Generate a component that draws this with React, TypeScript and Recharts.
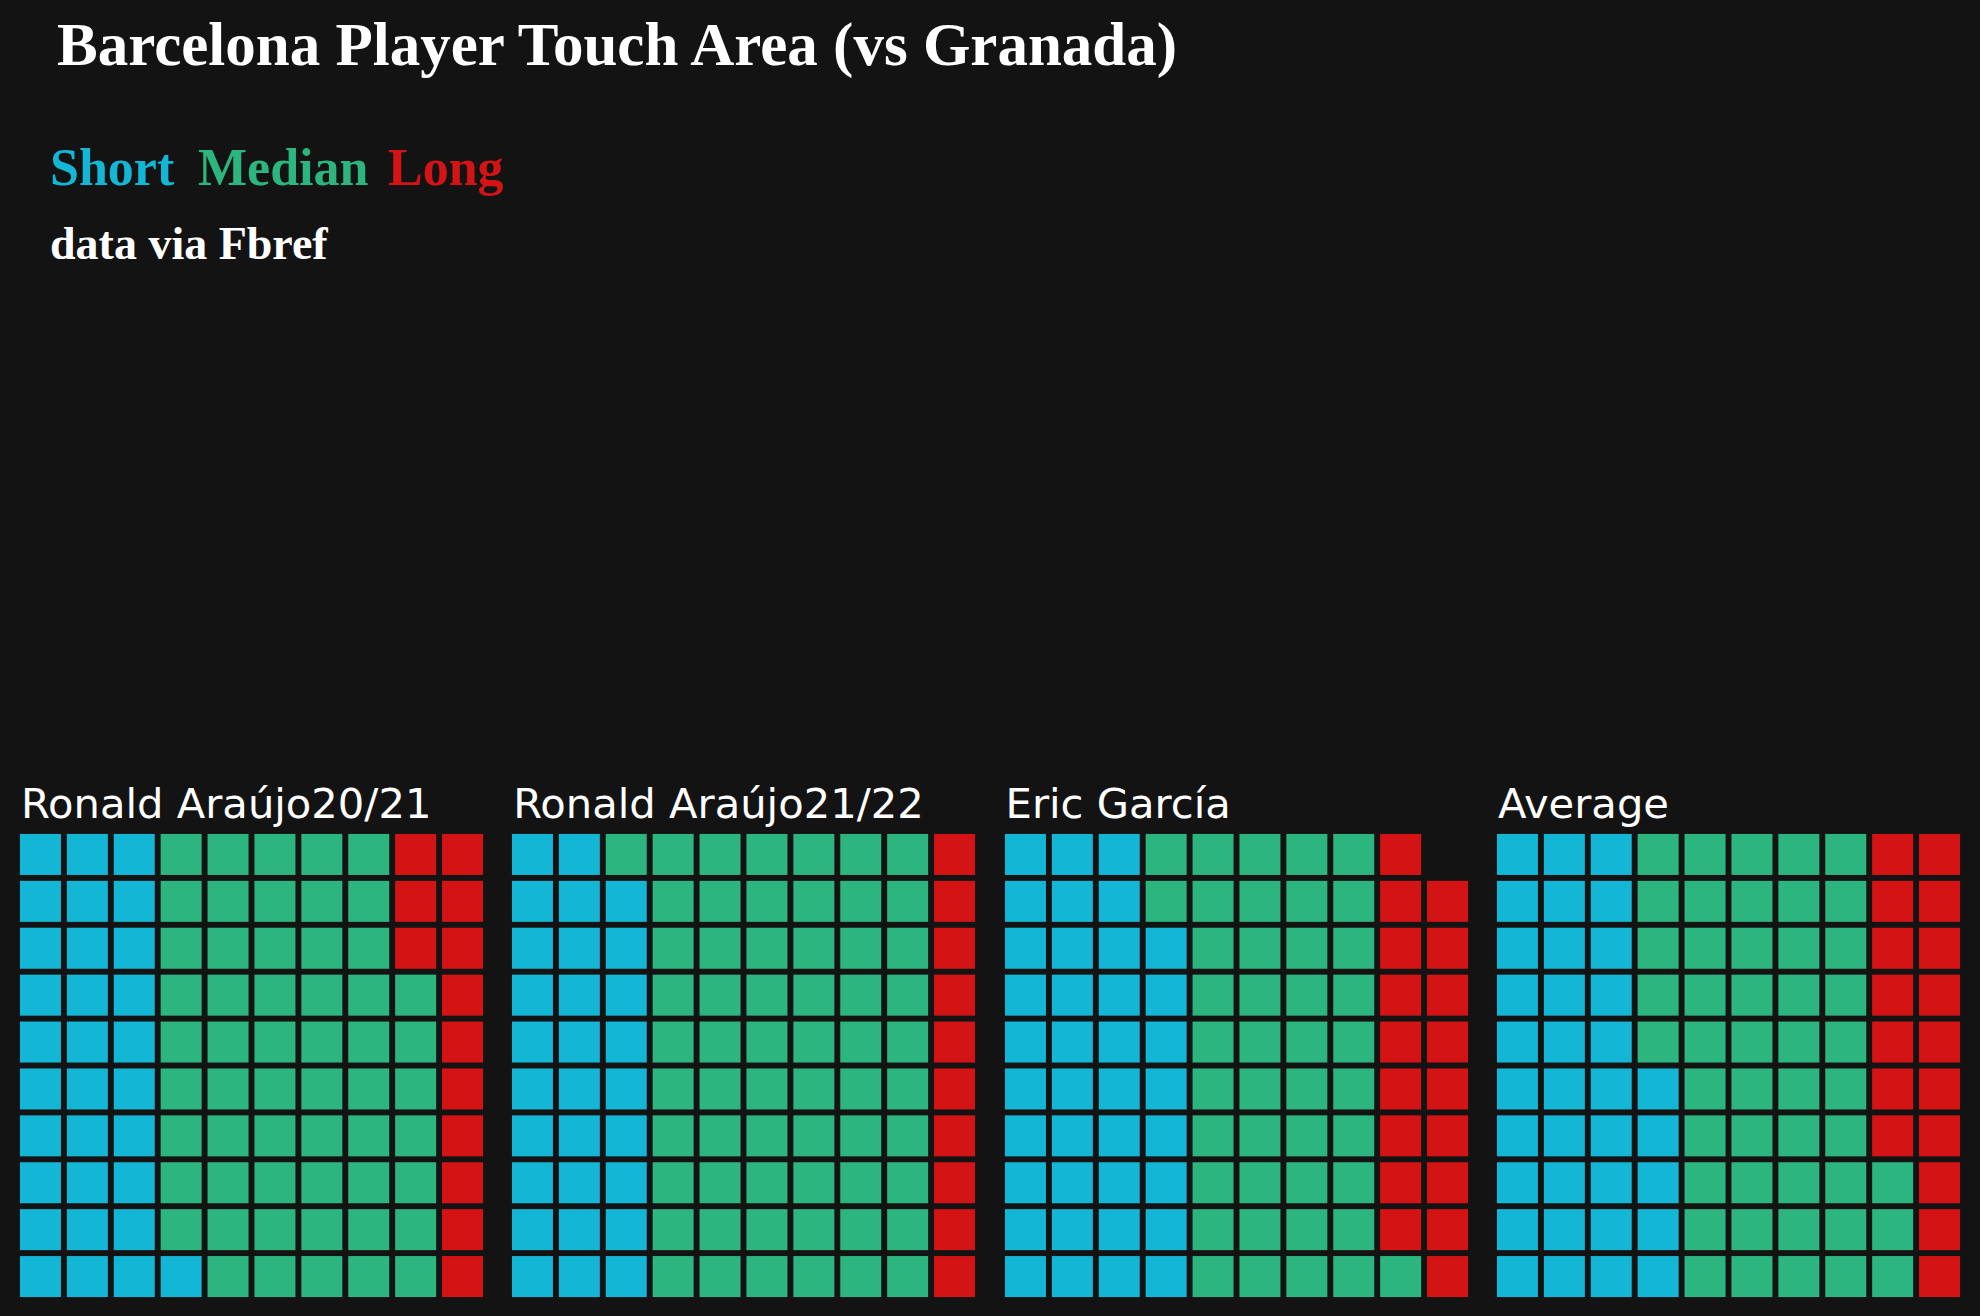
import React from 'react';
import { ScatterChart, Scatter, XAxis, YAxis } from 'recharts';

const players = ['Ronald Araújo20/21', 'Ronald Araújo21/22', 'Eric García', 'Average'];
const shortTouches = [31, 29, 38, 35];
const medianTouches = [56, 61, 43, 48];
const longTouches = [13, 10, 18, 17];

const categories = ['Short', 'Median', 'Long'];
const COLORS = ['#14b6d6', '#2cb57f', '#d41414'];
const BG = '#131313';

const CELL = 41;
const PANEL_W = 469;
const PANEL_LEFT = 17;
const PANEL_STEP = 492.3;
const PANEL_TOP = 831;

// waffle layout: fill column by column, bottom to top
const buildCells = (counts: number[]) => {
  let idx = 0;
  return counts.map((c) =>
    Array.from({ length: c }, () => {
      const i = idx++;
      return { x: Math.floor(i / 10) + 1, y: (i % 10) + 1 };
    })
  );
};

const square = (color: string) => (props: any) => {
  const { cx, cy } = props;
  return <rect x={cx - CELL / 2} y={cy - CELL / 2} width={CELL} height={CELL} fill={color} />;
};

const Waffle: React.FC<{ index: number }> = ({ index }) => {
  const cells = buildCells([shortTouches[index], medianTouches[index], longTouches[index]]);
  return (
    <div
      style={{
        position: 'absolute',
        left: PANEL_LEFT + index * PANEL_STEP,
        top: PANEL_TOP,
        width: PANEL_W,
        height: PANEL_W,
      }}
    >
      <ScatterChart width={PANEL_W} height={PANEL_W} margin={{ top: 0, right: 0, bottom: 0, left: 0 }}>
        <XAxis type="number" dataKey="x" domain={[0.5, 10.5]} hide />
        <YAxis type="number" dataKey="y" domain={[0.5, 10.5]} hide />
        {categories.map((cat, k) => (
          <Scatter
            key={cat}
            name={cat}
            data={cells[k]}
            fill={COLORS[k]}
            shape={square(COLORS[k])}
            isAnimationActive={false}
          />
        ))}
      </ScatterChart>
    </div>
  );
};

export default function App() {
  return (
    <div style={{ position: 'absolute', left: 0, top: 0, width: 1980, height: 1316, background: BG, overflow: 'hidden' }}>
      <svg width={1980} height={1316} style={{ position: 'absolute', left: 0, top: 0 }}>
        <g fontFamily="'Liberation Serif', serif" fontWeight="bold">
          <text x={57} y={65} fontSize={61} fill="#ffffff">
            Barcelona Player Touch Area (vs Granada)
          </text>
          <text x={50} y={185} fontSize={52} fill={COLORS[0]}>Short</text>
          <text x={198} y={185} fontSize={52} fill={COLORS[1]}>Median</text>
          <text x={388} y={185} fontSize={52} fill={COLORS[2]}>Long</text>
          <text x={50} y={259} fontSize={46} fill="#ffffff">data via Fbref</text>
        </g>
        <g fontFamily="'DejaVu Sans', sans-serif" fontSize={41.67} fill="#ffffff">
          {players.map((p, i) => (
            <text key={p} x={21 + i * PANEL_STEP} y={818}>
              {p}
            </text>
          ))}
        </g>
      </svg>
      {players.map((p, i) => (
        <Waffle key={p} index={i} />
      ))}
    </div>
  );
}
